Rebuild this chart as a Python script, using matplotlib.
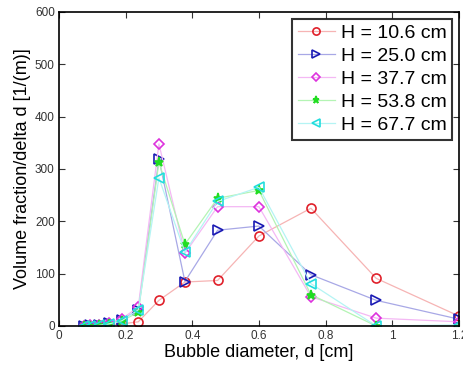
import matplotlib
matplotlib.use("Agg")
import matplotlib.pyplot as plt

plt.rcParams['font.family'] = ['Liberation Sans', 'DejaVu Sans']

d = [0.075, 0.0945, 0.119, 0.15, 0.189, 0.238, 0.30, 0.378, 0.476, 0.60, 0.756, 0.952, 1.2]
h106 = [0, 0, 1, 2, 4, 8, 49, 84, 87, 172, 225, 91, 19]
h250 = [0, 1, 2, 5, 12, 31, 319, 85, 183, 191, 98, 49, 13]
h377 = [0, 1, 2, 6, 14, 36, 348, 139, 228, 228, 56, 15, 8]
h538 = [0, 0, 1, 4, 10, 26, 313, 156, 244, 259, 60, 0, 0]
h677 = [0, 0, 1, 4, 10, 31, 283, 141, 238, 265, 81, 0, 2]
labels = ['H = 10.6 cm', 'H = 25.0 cm', 'H = 37.7 cm', 'H = 53.8 cm', 'H = 67.7 cm']
xticks = [0, 0.2, 0.4, 0.6, 0.8, 1, 1.2]
xticklabels = ['0', '0.2', '0.4', '0.6', '0.8', '1', '1.2']
yticks = [0, 100, 200, 300, 400, 500, 600]

series = [h106, h250, h377, h538, h677]
mcols = ['#e0202a', '#1a1ab4', '#dd33dd', '#22dd22', '#22dddd']
lcols = ['#f6b4b4', '#a8a8e6', '#f4b8f4', '#b4f4b4', '#b4f4f4']
markers = ['o', '>', 'D', '*', '<']
msizes = [6.5, 6.5, 5, 6.5, 6.5]

fig = plt.figure(figsize=(4.64, 3.71), dpi=100)
ax = fig.add_axes([0.127, 0.1213, 0.862, 0.8464])
for y, mc, lc, m, ms, lab in zip(series, mcols, lcols, markers, msizes, labels):
    fill = mc if m == '*' else 'none'
    ax.plot(d, y, color=lc, lw=0.9, marker=m, ms=ms, mec=mc, mfc=fill, mew=1.2, label=lab)

ax.set_xlim(0, 1.2)
ax.set_ylim(0, 600)
ax.set_xticks(xticks)
ax.set_xticklabels(xticklabels)
ax.set_yticks(yticks)
ax.tick_params(direction='in', top=True, right=True, labelsize=8.5, length=4, width=0.8,
               colors='#333333', pad=3)
for s in ax.spines.values():
    s.set_linewidth(1.2)
ax.set_xlabel('Bubble diameter, d [cm]', fontsize=13, labelpad=1)
ax.set_ylabel('Volume fraction/delta d [1/(m)]', fontsize=13, labelpad=3)
leg = ax.legend(loc='upper right', fontsize=14, frameon=True, fancybox=False, edgecolor='black',
                borderpad=0.3, labelspacing=0.27, handlelength=1.9, handletextpad=0.3,
                borderaxespad=0.35, markerscale=0.8)
leg.get_frame().set_linewidth(1.5)
fig.savefig('out.png', dpi=100)
